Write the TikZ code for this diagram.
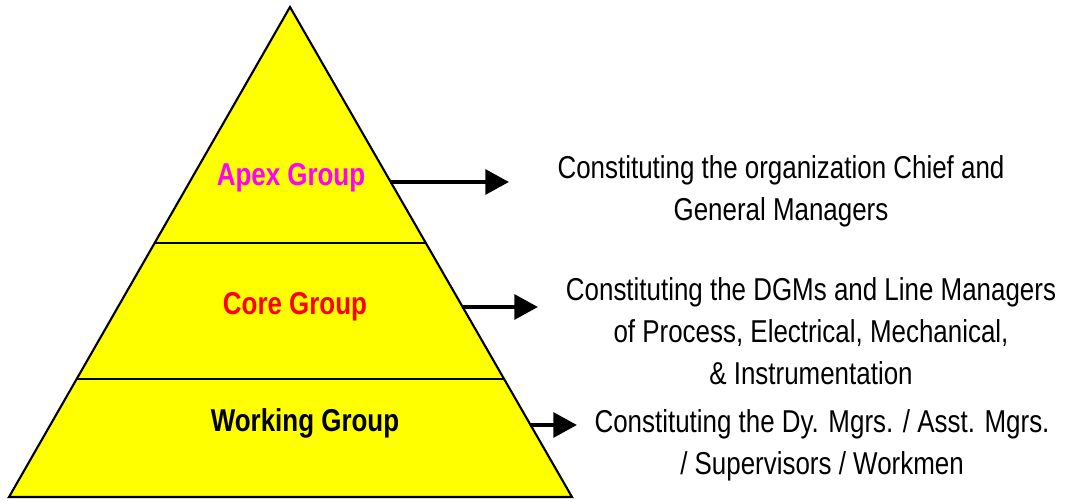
\documentclass[tikz,border=0pt]{standalone}
\usepackage{fontspec}
\setmainfont{Liberation Sans}[FakeStretch=0.82]
\usepackage{tikz}
\usetikzlibrary{arrows.meta}

\definecolor{pyrfill}{RGB}{255,255,0}
\definecolor{apexcol}{RGB}{255,0,255}
\definecolor{corecol}{RGB}{255,0,0}

\begin{document}
\begin{tikzpicture}[x=0.02cm, y=-0.02cm, font=\fontsize{18}{23.8}\selectfont,
  group/.style={font=\fontsize{18}{23.8}\selectfont\bfseries},
  note/.style={align=center},
  pointer/.style={line width=2.6pt, -{Triangle[length=13.5pt, width=14pt]}}]
  \useasboundingbox (0,0) rectangle (1065,502);
  % pyramid and its two dividing lines
  \coordinate (top) at (290,7);
  \coordinate (bl) at (9,497);
  \coordinate (br) at (572,497);
  \draw[fill=pyrfill, line width=1.2pt, line join=miter] (top) -- (br) -- (bl) -- cycle;
  \draw[line width=1.2pt] (155,243) -- (426,243);
  \draw[line width=1.2pt] (77,379) -- (504,379);
  % levels
  \node[group, text=apexcol] (apex) at (291,178) {Apex Group};
  \node[group, text=corecol] (core) at (295,307) {Core Group};
  \node[group] (work) at (305,423) {Working Group};
  % descriptions
  \node[note] (apexnote) at (781,191) {Constituting the organization Chief and\\General Managers};
  \node[note] (corenote) at (811,331) {Constituting the DGMs and Line Managers\\of Process, Electrical, Mechanical,\\\& Instrumentation};
  \node[note] (worknote) at (822,445) {Constituting the Dy. Mgrs. / Asst. Mgrs.\\/ Supervisors / Workmen};
  % arrows out of the right edge
  \coordinate (a1) at (390,182);  \coordinate (b1) at (509,182);
  \coordinate (a2) at (462,307);  \coordinate (b2) at (538,307);
  \coordinate (a3) at (530,425);  \coordinate (b3) at (577,425);
  \draw[pointer] (a1) -- (b1);
  \draw[pointer] (a2) -- (b2);
  \draw[pointer] (a3) -- (b3);
\end{tikzpicture}
\end{document}
